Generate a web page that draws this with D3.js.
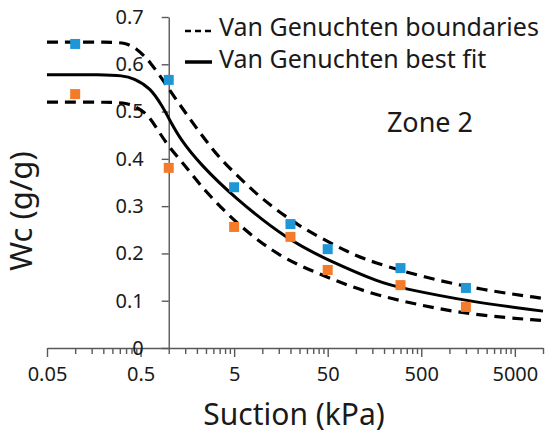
<!DOCTYPE html>
<html>
<head>
<meta charset="utf-8">
<script src="https://cdn.jsdelivr.net/npm/d3@7"></script>
<style>
    body { margin: 0; background: #fff; }
    .chart text { font-family: "Noto Sans", sans-serif; fill: #1a1a1a; }
    .axis path, .axis line { stroke: #595959; stroke-width: 1.4; }
</style>
</head>
<body>
<div class="chart"></div>
<script>
// measured points (suction kPa / water content g/g)
var suction = [0.1, 1, 5, 20, 50, 300, 1500];
var wcBlue = [0.643, 0.567, 0.340, 0.262, 0.209, 0.169, 0.127];
var wcOrange = [0.537, 0.381, 0.256, 0.235, 0.165, 0.133, 0.087];

// best fit curve
var fitSuction = [0.05, 0.2, 0.32, 0.42, 0.64, 0.86, 1, 1.34, 2.19, 4.95, 18.8, 50, 187, 307, 1527, 10000];
var fitWc = [0.578, 0.578, 0.576, 0.571, 0.55, 0.51, 0.486, 0.44, 0.388, 0.319, 0.228, 0.186, 0.137, 0.127, 0.099, 0.078];

// upper boundary
var upSuction = [0.05, 0.25, 0.34, 0.44, 0.64, 0.97, 1.44, 3.1, 4.95, 8.2, 13.3, 24, 42, 82, 146, 569, 2213, 10000];
var upWc = [0.647, 0.647, 0.645, 0.636, 0.605, 0.552, 0.503, 0.412, 0.372, 0.330, 0.296, 0.260, 0.233, 0.203, 0.182, 0.148, 0.123, 0.105];

// lower boundary
var loSuction = [0.05, 0.25, 0.35, 0.45, 0.59, 0.76, 1.0, 1.59, 2.3, 5.9, 15.8, 35.7, 123, 467, 1730, 10000];
var loWc = [0.52, 0.52, 0.518, 0.51, 0.495, 0.462, 0.425, 0.38, 0.337, 0.254, 0.192, 0.161, 0.118, 0.091, 0.070, 0.058];

var xMajor = [0.05, 0.5, 5, 50, 500, 5000];
var yTicks = [0, 0.1, 0.2, 0.3, 0.4, 0.5, 0.6, 0.7];
var legendLabels = ["Van Genuchten boundaries", "Van Genuchten best fit"];

var width = 550, height = 436;

var svg = d3.select(".chart").append("svg")
    .attr("width", width)
    .attr("height", height);

var x = d3.scaleLog()
    .domain([0.05, 10000])
    .range([47, 543]);

var y = d3.scaleLinear()
    .domain([0, 0.7])
    .range([348, 17]);

// minor ticks: multiples of each major value
var xMinor = [];
xMajor.forEach(function (m) {
    for (var k = 2; k <= 9; k++) {
        var v = m * k;
        if (v <= 10000) xMinor.push(v);
    }
});

// x axis (crosses at wc = 0)
svg.append("g")
    .attr("class", "axis")
    .attr("transform", "translate(0," + y(0) + ")")
    .call(d3.axisBottom(x).tickValues(xMinor).tickSize(6).tickSizeOuter(0).tickFormat(""));

var xg = svg.append("g")
    .attr("class", "axis")
    .attr("transform", "translate(0," + y(0) + ")")
    .call(d3.axisBottom(x).tickValues(xMajor).tickSize(9).tickSizeOuter(0).tickPadding(10)
        .tickFormat(function (d) { return String(d); }));
xg.select(".domain").remove();
xg.selectAll("text").style("font-size", "20px");

// y axis (crosses at suction = 1)
var yg = svg.append("g")
    .attr("class", "axis")
    .attr("transform", "translate(" + x(1) + ",0)")
    .call(d3.axisLeft(y).tickValues(yTicks).tickSize(7).tickSizeOuter(0).tickPadding(18)
        .tickFormat(function (d) { return d === 0 ? "0" : d.toFixed(1); }));
yg.selectAll("text").style("font-size", "20px");

var line = d3.line()
    .x(function (d) { return x(d[0]); })
    .y(function (d) { return y(d[1]); })
    .curve(d3.curveBasis);

function pairs(a, b) {
    return a.map(function (v, i) { return [v, b[i]]; });
}

svg.append("path")
    .attr("d", line(pairs(upSuction, upWc)))
    .attr("fill", "none")
    .attr("stroke", "#000")
    .attr("stroke-width", 3.2)
    .attr("stroke-dasharray", "11,7");

svg.append("path")
    .attr("d", line(pairs(loSuction, loWc)))
    .attr("fill", "none")
    .attr("stroke", "#000")
    .attr("stroke-width", 3.2)
    .attr("stroke-dasharray", "11,7");

svg.append("path")
    .attr("d", line(pairs(fitSuction, fitWc)))
    .attr("fill", "none")
    .attr("stroke", "#000")
    .attr("stroke-width", 3);

// markers
var s = 10;
svg.selectAll(".blue")
    .data(pairs(suction, wcBlue))
    .enter().append("rect")
    .attr("class", "blue")
    .attr("x", function (d) { return x(d[0]) - s / 2; })
    .attr("y", function (d) { return y(d[1]) - s / 2; })
    .attr("width", s)
    .attr("height", s)
    .style("fill", "#1f97d6");

svg.selectAll(".orange")
    .data(pairs(suction, wcOrange))
    .enter().append("rect")
    .attr("class", "orange")
    .attr("x", function (d) { return x(d[0]) - s / 2; })
    .attr("y", function (d) { return y(d[1]) - s / 2; })
    .attr("width", s)
    .attr("height", s)
    .style("fill", "#f47b2a");

// legend
svg.append("line")
    .attr("x1", 185).attr("x2", 211)
    .attr("y1", 31).attr("y2", 31)
    .attr("stroke", "#000")
    .attr("stroke-width", 2.5)
    .attr("stroke-dasharray", "6,4");
svg.append("line")
    .attr("x1", 185).attr("x2", 212)
    .attr("y1", 62).attr("y2", 62)
    .attr("stroke", "#000")
    .attr("stroke-width", 3.5);

svg.selectAll(".leg")
    .data(legendLabels)
    .enter().append("text")
    .attr("class", "leg")
    .attr("x", 219)
    .attr("y", function (d, i) { return 36 + i * 32; })
    .style("font-size", "25px")
    .text(function (d) { return d; });

svg.append("text")
    .attr("x", 430)
    .attr("y", 132)
    .attr("text-anchor", "middle")
    .style("font-size", "27px")
    .text("Zone 2");

// axis titles
svg.append("text")
    .attr("x", 294)
    .attr("y", 425)
    .attr("text-anchor", "middle")
    .style("font-size", "30px")
    .text("Suction (kPa)");

svg.append("text")
    .attr("transform", "translate(32,211) rotate(-90)")
    .attr("text-anchor", "middle")
    .style("font-size", "31px")
    .text("Wc (g/g)");
</script>
</body>
</html>
